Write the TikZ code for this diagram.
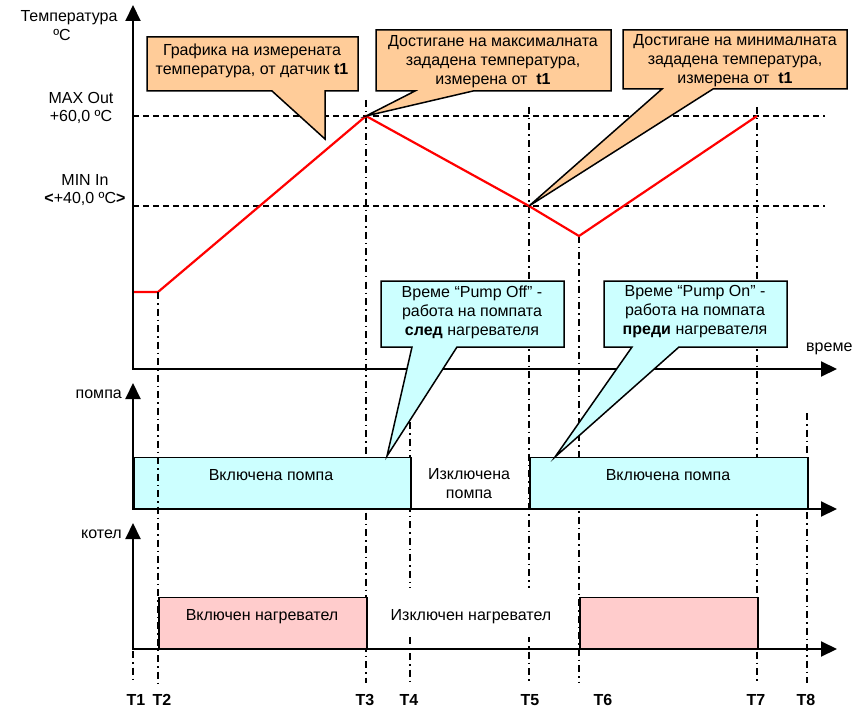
\documentclass[tikz,border=0pt]{standalone}
\usepackage{fontspec}
\setmainfont{Liberation Sans}
\usetikzlibrary{arrows.meta}
\definecolor{orangefill}{HTML}{FFCC99}
\definecolor{cyanfill}{HTML}{CCFFFF}
\definecolor{pinkfill}{HTML}{FFCCCC}
\definecolor{tempred}{HTML}{FF0000}
\begin{document}
\begin{tikzpicture}[x=1pt,y=-1pt,
  txt/.style={font=\fontsize{16}{19}\selectfont, align=center, inner sep=0pt},
  tlabel/.style={font=\fontsize{16}{19}\selectfont\bfseries, inner sep=0pt},
  axisline/.style={line width=2pt, line join=miter,
    {Triangle[length=16pt,width=15pt]}-{Triangle[length=16pt,width=15pt]}},
  guide/.style={line width=1.4pt, dash pattern=on 7pt off 4pt on 1.5pt off 4pt},
  level/.style={line width=1.4pt, dash pattern=on 6pt off 4pt},
  templine/.style={tempred, line width=2.2pt, line join=miter},
  obox/.style={draw, line width=1.5pt, fill=orangefill, line join=miter},
  cbox/.style={draw, line width=1.5pt, fill=cyanfill, line join=miter},
  pbox/.style={draw, line width=1.5pt, fill=pinkfill},
]
\useasboundingbox (0,0) rectangle (866,708);

% temperature points
\coordinate (P0) at (133,292);
\coordinate (P1) at (158,292);
\coordinate (P2) at (366,116);
\coordinate (P3) at (529,206);
\coordinate (P4) at (579,236);
\coordinate (P5) at (757,116);

% level lines
\draw[level] (133,116) -- (825,116);
\draw[level] (133,206) -- (825,206);

% time guides
\draw[guide] (133,651) -- (133,683);
\draw[guide] (366,100) -- (366,683);
\draw[guide] (410,422) -- (410,683);
\draw[guide] (529,107) -- (529,683);
\draw[guide] (579,236) -- (579,683);
\draw[guide] (757,107) -- (757,683);
\draw[guide] (807,413) -- (807,683);

% temperature curve
\draw[templine] (P0) -- (P1) -- (P2) -- (P3) -- (P4) -- (P5);

% white background of the "off" heater text
\fill[white] (390,588) rectangle (553,637);

% pump boxes
\node[cbox, minimum width=277pt, minimum height=51pt, anchor=south west] (pump1) at (133,509) {};
\node[cbox, minimum width=278pt, minimum height=51pt, anchor=south west] (pump2) at (529,509) {};
% heater boxes
\node[pbox, minimum width=208pt, minimum height=51pt, anchor=south west] (heat1) at (158,649) {};
\node[pbox, minimum width=178pt, minimum height=51pt, anchor=south west] (heat2) at (579,649) {};

\draw[guide] (P1) -- (158,683);

% axes
\draw[axisline] (133,5) -- (133,369) -- (837,369);
\draw[axisline] (133,383) -- (133,509) -- (837,509);
\draw[axisline] (133,523) -- (133,649) -- (837,649);

% axis labels
\node[txt] (tempname) at (69,18) {Температура};
\node[txt] (tempunit) at (62,35) {ºC};
\node[txt] (maxname) at (81,98) {MAX Out};
\node[txt] (maxval) at (81,117) {+60,0 ºC};
\node[txt] (minname) at (85,180) {MIN In};
\node[txt] (minval) at (85,199) {\textbf{<}+40,0 ºC\textbf{>}};
\node[txt, anchor=east] (pumpname) at (122,394) {помпа};
\node[txt, anchor=east] (boilername) at (122,534) {котел};
\node[txt, anchor=west] (timename) at (806,349) {време};

% box texts
\node[txt] (pump1t) at (271,475) {Включена помпа};
\node[txt] (pump2t) at (668,475) {Включена помпа};
\node[txt] (pumpoff) at (469,484) {Изключена\\помпа};
\node[txt] (heat1t) at (262,617) {Включен нагревател};
\node[txt] (heatoff) at (471,617) {Изключен нагревател};

% T labels
\node[tlabel] (T1) at (136,700) {T1};
\node[tlabel] (T2) at (162,700) {T2};
\node[tlabel] (T3) at (365,700) {T3};
\node[tlabel] (T4) at (409,700) {T4};
\node[tlabel] (T5) at (530,700) {T5};
\node[tlabel] (T6) at (603,700) {T6};
\node[tlabel] (T7) at (756,700) {T7};
\node[tlabel] (T8) at (806,700) {T8};

% callouts
\coordinate (c1tip) at (325,139);
\draw[obox] (147,37) -- (358,37) -- (358,91) -- (325,91) -- (c1tip) -- (272,91) -- (147,91) -- cycle;
\node[txt] (c1) at (252,61) {Графика на измерената\\температура, от датчик \textbf{t1}};

\draw[obox] (376,30) -- (611,30) -- (611,91) -- (473,91) -- (P2) -- (415,91) -- (376,91) -- cycle;
\node[txt] (c2) at (493,62) {Достигане на максималната\\зададена температура,\\измерена от~~\textbf{t1}};

\draw[obox] (623,30) -- (847,30) -- (847,89) -- (713,89) -- (P3) -- (662,89) -- (623,89) -- cycle;
\node[txt] (c3) at (735,61) {Достигане на минималната\\зададена температура,\\измерена от~~\textbf{t1}};

\coordinate (c4tip) at (387,456);
\draw[cbox] (381,281) -- (564,281) -- (564,347) -- (457,347) -- (c4tip) -- (412,347) -- (381,347) -- cycle;
\node[txt] (c4) at (472,312) {Време “Pump Off” -\\работа на помпата\\\textbf{след} нагревателя};

\coordinate (c5tip) at (555,457);
\draw[cbox] (604,281) -- (787,281) -- (787,347) -- (679,347) -- (c5tip) -- (632,347) -- (604,347) -- cycle;
\node[txt] (c5) at (695,312) {Време “Pump On” -\\работа на помпата\\\textbf{преди} нагревателя};
\end{tikzpicture}
\end{document}
